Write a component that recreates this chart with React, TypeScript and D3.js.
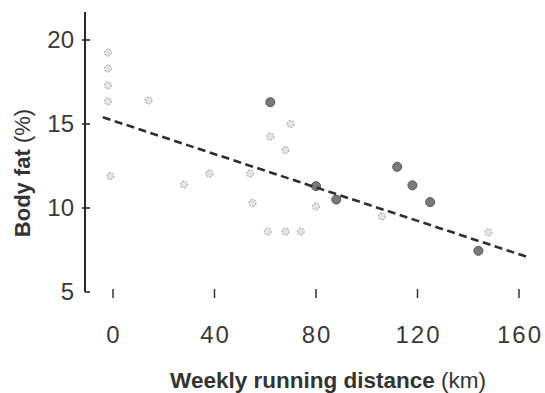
import { useEffect, useRef } from 'react';
import * as d3 from 'd3';

// weekly running distance (km) vs body fat (%)
const solidX = [62, 80, 88, 112, 118, 125, 144];
const solidY = [16.3, 11.3, 10.5, 12.45, 11.35, 10.35, 7.45];

const faintX = [-2, -2, -2, -2, 14, 70, 62, 68, -1, 28, 38, 54, 55, 61, 68, 74, 80, 106, 148];
const faintY = [19.25, 18.3, 17.3, 16.35, 16.4, 15.0, 14.25, 13.45, 11.9, 11.4, 12.05, 12.05, 10.3, 8.6, 8.6, 8.6, 10.1, 9.5, 8.55];

// least-squares trend line (endpoints)
const trendX = [-4, 164];
const trendY = [15.4, 7.05];

const xTicks = [0, 40, 80, 120, 160];
const yTicks = [5, 10, 15, 20];

export default function App() {
    const svgRef = useRef<SVGSVGElement>(null);

    useEffect(() => {
        if (!svgRef.current) return;
        const svg = d3.select(svgRef.current);
        svg.selectAll('*').remove();

        const x = d3.scaleLinear().domain([0, 160]).range([113, 519]);
        const y = d3.scaleLinear().domain([5, 20]).range([292, 40]);
        const axisX = 85;
        const font = '"Liberation Sans", Arial, sans-serif';

        // y axis line
        svg.append('line')
            .attr('x1', axisX).attr('x2', axisX)
            .attr('y1', 12).attr('y2', y(5))
            .attr('stroke', '#2a2a2a').attr('stroke-width', 2);

        svg.selectAll('.ytick')
            .data(yTicks)
            .enter()
            .append('line')
            .attr('x1', d => (d === 5 ? axisX : axisX - 3))
            .attr('x2', axisX + 5)
            .attr('y1', d => y(d)).attr('y2', d => y(d))
            .attr('stroke', '#2a2a2a').attr('stroke-width', 1.6);

        svg.selectAll('.ylab')
            .data(yTicks)
            .enter()
            .append('text')
            .attr('x', 74)
            .attr('y', d => y(d) + 8)
            .attr('text-anchor', 'end')
            .attr('font-family', font)
            .attr('font-size', 24)
            .attr('fill', '#3a3a3a')
            .text(d => d);

        // x ticks (no axis line on the scan)
        svg.selectAll('.xtick')
            .data(xTicks)
            .enter()
            .append('line')
            .attr('x1', d => x(d)).attr('x2', d => x(d))
            .attr('y1', 289).attr('y2', 298)
            .attr('stroke', '#333').attr('stroke-width', 1.5);

        svg.selectAll('.xlab')
            .data(xTicks)
            .enter()
            .append('text')
            .attr('x', d => x(d) + 1)
            .attr('y', 343)
            .attr('text-anchor', 'middle')
            .attr('font-family', font)
            .attr('font-size', 24)
            .attr('letter-spacing', 2)
            .attr('fill', '#3a3a3a')
            .text(d => d);

        // axis titles
        const xt = svg.append('text')
            .attr('x', 328).attr('y', 388)
            .attr('text-anchor', 'middle')
            .attr('font-family', font)
            .attr('font-size', 22.5)
            .attr('fill', '#333');
        xt.append('tspan').attr('font-weight', 'bold').text('Weekly running distance');
        xt.append('tspan').text(' (km)');

        const yt = svg.append('text')
            .attr('transform', 'translate(30,173) rotate(-90)')
            .attr('text-anchor', 'middle')
            .attr('font-family', font)
            .attr('font-size', 22)
            .attr('fill', '#333');
        yt.append('tspan').attr('font-weight', 'bold').text('Body fat');
        yt.append('tspan').text(' (%)');

        // faint points
        svg.selectAll('.faint')
            .data(faintX.map((d, i) => [d, faintY[i]]))
            .enter()
            .append('circle')
            .attr('cx', d => x(d[0]))
            .attr('cy', d => y(d[1]))
            .attr('r', 3.5)
            .attr('fill', '#e4e4e4')
            .attr('stroke', '#9a9a9a')
            .attr('stroke-width', 1)
            .attr('stroke-dasharray', '2,1.5');

        // solid points
        svg.selectAll('.solid')
            .data(solidX.map((d, i) => [d, solidY[i]]))
            .enter()
            .append('circle')
            .attr('cx', d => x(d[0]))
            .attr('cy', d => y(d[1]))
            .attr('r', 4.5)
            .attr('fill', '#7a7a7a')
            .attr('stroke', '#555')
            .attr('stroke-width', 1);

        // trend line
        const line = d3.line<number>()
            .x(d => x(d))
            .y((d, i) => y(trendY[i]));

        svg.append('path')
            .datum(trendX)
            .attr('fill', 'none')
            .attr('stroke', '#2e2e2e')
            .attr('stroke-width', 2.6)
            .attr('stroke-dasharray', '8,4.5')
            .attr('d', line);
    }, []);

    return (
        <div style={{ position: 'fixed', left: 0, top: 0, width: 545, height: 393, background: '#fff' }}>
            <svg ref={svgRef} width={545} height={393} />
        </div>
    );
}
